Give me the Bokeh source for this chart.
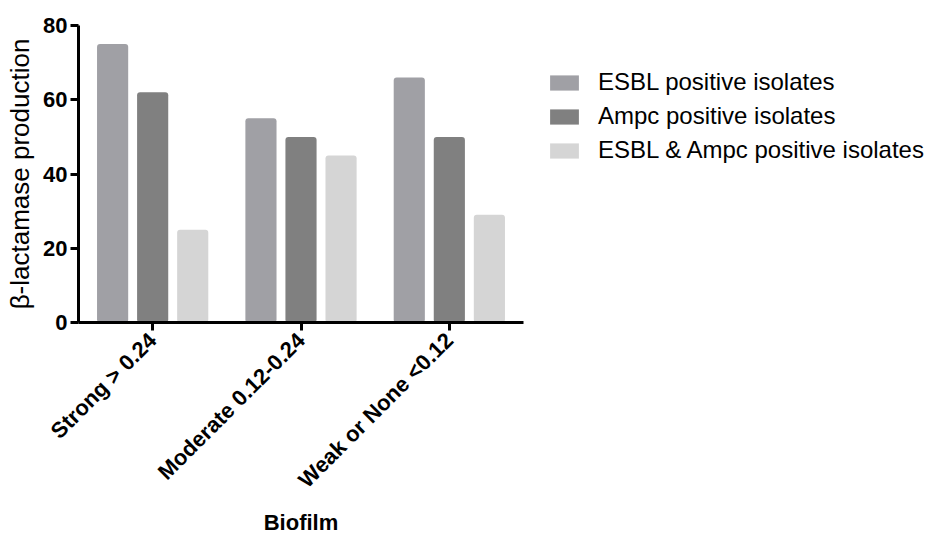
from math import pi
from bokeh.plotting import figure
from bokeh.models import ColumnDataSource, FactorRange, Range1d, Legend, LegendItem, FixedTicker
from bokeh.transform import dodge
from bokeh.embed import file_html
from bokeh.resources import INLINE

categories = ["Strong > 0.24", "Moderate 0.12-0.24", "Weak or None <0.12"]
esbl = [75, 55, 66]
ampc = [62, 50, 50]
both = [25, 45, 29]
series_names = ["ESBL positive isolates", "Ampc positive isolates", "ESBL & Ampc positive isolates"]
colors = ["#a0a0a5", "#808080", "#d5d5d5"]
y_ticks = [0, 20, 40, 60, 80]

src = ColumnDataSource(dict(cat=categories, esbl=esbl, ampc=ampc, both=both))

p = figure(frame_width=445, frame_height=297, output_backend="svg", toolbar_location=None,
           x_range=FactorRange(factors=categories, range_padding=0),
           y_range=Range1d(0, 80),
           min_border_left=78, min_border_right=409, min_border_top=25, min_border_bottom=214)

r1 = p.vbar(x=dodge("cat", -0.27, range=p.x_range), top="esbl", width=0.21, source=src,
            fill_color=colors[0], line_color=None, border_radius=3)
r2 = p.vbar(x=dodge("cat", 0.0, range=p.x_range), top="ampc", width=0.21, source=src,
            fill_color=colors[1], line_color=None, border_radius=3)
r3 = p.vbar(x=dodge("cat", 0.27, range=p.x_range), top="both", width=0.21, source=src,
            fill_color=colors[2], line_color=None, border_radius=3)

p.xgrid.visible = False
p.ygrid.visible = False
p.outline_line_color = None
p.background_fill_color = "white"

for ax in (p.xaxis[0], p.yaxis[0]):
    ax.axis_line_width = 3
    ax.axis_line_color = "black"
    ax.major_tick_line_width = 3
    ax.major_tick_line_color = "black"
    ax.major_tick_out = 8
    ax.major_tick_in = 0
    ax.minor_tick_line_color = None
    ax.major_label_text_font = "Liberation Sans"
    ax.major_label_text_font_size = "22px"
    ax.major_label_text_font_style = "bold"
    ax.major_label_text_color = "black"
    ax.axis_label_text_font = "Liberation Sans"
    ax.axis_label_text_font_size = "22px"
    ax.axis_label_text_color = "black"

p.yaxis[0].ticker = FixedTicker(ticks=y_ticks)
p.yaxis[0].major_label_standoff = 3
p.yaxis[0].axis_label = "β-lactamase production"
p.yaxis[0].axis_label_text_font_style = "normal"
p.yaxis[0].axis_label_text_font_size = "26px"
p.yaxis[0].axis_label_standoff = 5

p.xaxis[0].major_label_orientation = pi / 4
p.xaxis[0].major_label_standoff = 6
p.xaxis[0].axis_label = "Biofilm"
p.xaxis[0].axis_label_text_font_style = "bold"
p.xaxis[0].axis_label_standoff = 6

legend = Legend(items=[LegendItem(label=series_names[0], renderers=[r1]),
                       LegendItem(label=series_names[1], renderers=[r2]),
                       LegendItem(label=series_names[2], renderers=[r3])],
                location=(23, 158), padding=0, margin=0, spacing=6,
                glyph_width=36, glyph_height=19, label_standoff=16,
                label_text_font="Liberation Sans", label_text_font_size="24px",
                label_text_color="black", label_height=20,
                border_line_color=None, background_fill_alpha=0)
p.add_layout(legend, "right")

open("out.html", "w").write(file_html(p, INLINE))
